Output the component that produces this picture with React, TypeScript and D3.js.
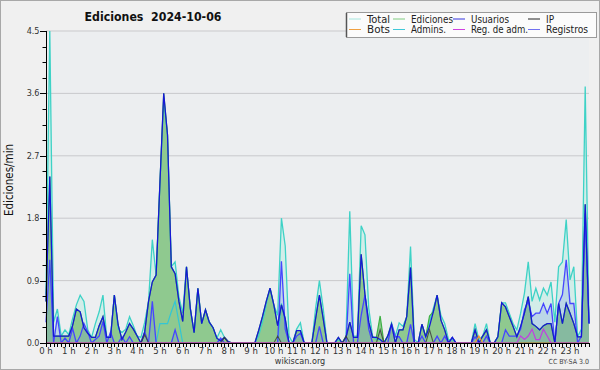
import React from "react";
import * as d3 from "d3";

// ---- data (10-minute steps, 144 per day) ----
const hourLabels = ["0 h","1 h","2 h","3 h","4 h","5 h","6 h","7 h","8 h","9 h","10 h","11 h","12 h","13 h","14 h","15 h","16 h","17 h","18 h","19 h","20 h","21 h","22 h","23 h"];
const yTickValues = [0, 0.9, 1.8, 2.7, 3.6, 4.5];
const yTickLabels = ["0.0", "0.9", "1.8", "2.7", "3.6", "4.5"];

const total = [
  0.7, 4.5, 0.3, 0.49, 0.1, 0.19, 0.12, 0.35, 0.55, 0.69, 0.6, 0.19,
  0.08, 0.28, 0.45, 0.69, 0.08, 0.1, 0.69, 0.2, 0.15, 0.2, 0.38, 0.25,
  0.1, 0.08, 0.3, 0.6, 1.49, 0.98, 2.3, 3.5, 3.0, 1.1, 1.17, 0.67,
  0.43, 1.1, 0.5, 0.15, 0.79, 0.28, 0.48, 0.3, 0.22, 0.07, 0.19, 0.08,
  0.02, 0, 0, 0, 0, 0, 0, 0, 0.1, 0.3, 0.55, 0.79,
  0.55, 0.4, 1.8, 1.4, 0.1, 0, 0.2, 0.29, 0, 0, 0, 0.5,
  0.9, 0.5, 0, 0, 0, 0.05, 0, 0.1, 1.9, 0.1, 0.1, 1.69,
  1.56, 0.5, 0.1, 0.05, 0.05, 0, 0.1, 0.29, 0.1, 0.29, 0.24, 0.38,
  1.39, 0.05, 0, 0.27, 0.09, 0.3, 0.5, 0.69, 0.4, 0.28, 0.05, 0.05,
  0, 0, 0, 0, 0, 0.28, 0.05, 0.1, 0.28, 0, 0, 0.09,
  0.58, 0.58, 0.43, 0.28, 0.19, 0.43, 0.72, 1.17, 0.6, 0.79, 0.62, 0.79,
  0.69, 0.88, 0.3, 1.1, 1.17, 1.78, 0.91, 1.1, 0.09, 0.2, 3.7, 0.28,
];

const ediciones = [
  0.6, 2.4, 0.1, 0.1, 0.1, 0.1, 0.1, 0.25, 0.49, 0.45, 0.22, 0.14,
  0.08, 0.08, 0.25, 0.38, 0.08, 0.08, 0.69, 0.26, 0.05, 0.16, 0.28, 0.2,
  0.1, 0, 0.16, 0.6, 0.88, 0.98, 2.3, 3.6, 3.0, 1.1, 1.0, 0.6,
  0.31, 1.1, 0.5, 0.15, 0.79, 0.28, 0.48, 0.3, 0.22, 0.07, 0.03, 0.08,
  0.02, 0, 0, 0, 0, 0, 0, 0, 0.18, 0.38, 0.6, 0.79,
  0.55, 0.25, 0.55, 0.35, 0, 0, 0.18, 0.18, 0, 0, 0, 0.35,
  0.69, 0.35, 0, 0, 0, 0.08, 0, 0.08, 0.3, 0.08, 0.08, 1.28,
  0.7, 0.3, 0.08, 0.08, 0.39, 0, 0.1, 0.27, 0, 0.19, 0.19, 0.38,
  1.09, 0, 0, 0.27, 0.09, 0.39, 0.45, 0.69, 0.33, 0.19, 0, 0.08,
  0, 0, 0, 0, 0, 0.19, 0, 0.1, 0.19, 0, 0, 0.09,
  0.58, 0.52, 0.38, 0.24, 0.09, 0.24, 0.43, 0.67, 0.28, 0.24, 0.19, 0.25,
  0.28, 0.28, 0, 0.57, 0.28, 0.57, 0.43, 0.28, 0.09, 0.09, 2.0, 0.28,
];

const usuarios = [
  0.6, 2.4, 0.1, 0.1, 0.1, 0.1, 0.1, 0.25, 0.49, 0.45, 0.22, 0.14,
  0.08, 0.08, 0.25, 0.38, 0.08, 0.08, 0.69, 0.26, 0.05, 0.16, 0.28, 0.2,
  0.1, 0, 0.16, 0.6, 0.88, 0.98, 2.3, 3.6, 3.0, 1.1, 1.0, 0.6,
  0.31, 1.1, 0.5, 0.15, 0.79, 0.28, 0.48, 0.3, 0.22, 0.07, 0.03, 0.08,
  0.02, 0, 0, 0, 0, 0, 0, 0, 0.18, 0.38, 0.6, 0.79,
  0.55, 0.25, 0.55, 0.35, 0, 0, 0.18, 0.18, 0, 0, 0, 0.35,
  0.69, 0.35, 0, 0, 0, 0.08, 0, 0.08, 0.3, 0.08, 0.08, 1.28,
  0.7, 0.3, 0.08, 0.08, 0.05, 0, 0.1, 0.27, 0, 0.19, 0.19, 0.38,
  1.09, 0, 0, 0.27, 0.09, 0.24, 0.45, 0.69, 0.33, 0.19, 0, 0.08,
  0, 0, 0, 0, 0, 0.19, 0, 0.1, 0.19, 0, 0, 0.09,
  0.58, 0.52, 0.38, 0.24, 0.09, 0.24, 0.43, 0.67, 0.28, 0.24, 0.19, 0.25,
  0.28, 0.28, 0, 0.57, 0.28, 0.57, 0.43, 0.28, 0.09, 0.09, 2.0, 0.28,
];

const registros = [
  0.3, 1.2, 0, 0.38, 0, 0.07, 0, 0.21, 0, 0.1, 0.28, 0.16,
  0, 0.05, 0.1, 0.31, 0, 0.16, 0, 0, 0.09, 0, 0.09, 0,
  0, 0, 0.16, 0, 0.6, 0, 0, 0, 0, 0, 0.19, 0,
  0, 0, 0, 0, 0, 0, 0, 0, 0, 0, 0.07, 0,
  0, 0, 0, 0, 0, 0, 0, 0, 0, 0, 0, 0,
  0, 0, 1.18, 0.2, 0, 0, 0.1, 0.14, 0, 0, 0, 0,
  0.24, 0, 0, 0, 0, 0, 0, 0, 1.0, 0, 0, 0.4,
  0.69, 0.2, 0, 0, 0, 0, 0, 0.27, 0.09, 0.09, 0, 0,
  0.27, 0, 0, 0.1, 0, 0, 0, 0.1, 0, 0.1, 0, 0.08,
  0, 0, 0, 0, 0, 0.09, 0, 0, 0.1, 0, 0, 0,
  0, 0.19, 0.1, 0.1, 0.1, 0.2, 0.48, 0.6, 0.38, 0.43, 0.43, 0.57,
  0.43, 0.57, 0, 0.57, 0.7, 1.2, 0.57, 0.57, 0, 0.1, 1.87, 0.28,
];

const admins = [
  0, 0, 0, 0, 0, 0, 0, 0, 0, 0, 0, 0,
  0, 0, 0, 0, 0, 0, 0, 0, 0, 0, 0, 0,
  0, 0, 0, 0, 0, 0, 0.28, 0.28, 0.28, 0.45, 0.6, 0.3,
  0, 0, 0, 0, 0, 0, 0, 0, 0, 0, 0, 0,
  0, 0, 0, 0, 0, 0, 0, 0, 0, 0, 0, 0,
  0, 0, 0.57, 0.3, 0, 0, 0, 0, 0, 0, 0, 0,
  0, 0, 0, 0, 0, 0, 0, 0, 0, 0, 0, 0,
  0, 0, 0, 0, 0, 0, 0, 0, 0, 0, 0, 0,
  0, 0, 0, 0, 0, 0, 0, 0, 0, 0, 0, 0,
  0, 0, 0, 0, 0, 0, 0, 0, 0, 0, 0, 0,
  0, 0, 0, 0, 0, 0, 0, 0, 0, 0, 0, 0,
  0, 0, 0, 0, 0, 0, 0, 0, 0, 0, 0, 0,
];

const ip = [
  0, 0, 0, 0, 0, 0, 0, 0, 0, 0, 0, 0,
  0, 0, 0, 0, 0, 0, 0, 0, 0, 0, 0, 0,
  0, 0, 0.12, 0, 0, 0, 0, 0, 0, 0, 0, 0,
  0, 0, 0, 0, 0, 0, 0, 0, 0, 0, 0, 0.08,
  0, 0, 0, 0, 0, 0, 0, 0, 0, 0, 0, 0,
  0, 0.1, 0, 0, 0, 0, 0, 0, 0, 0, 0, 0,
  0, 0, 0, 0, 0, 0, 0, 0.1, 0, 0, 0, 0,
  0, 0, 0, 0, 0.19, 0, 0, 0, 0, 0, 0, 0,
  0, 0, 0, 0, 0, 0.19, 0, 0, 0, 0, 0, 0,
  0, 0, 0, 0, 0, 0, 0, 0, 0, 0, 0, 0,
  0, 0, 0, 0, 0, 0, 0, 0, 0, 0, 0, 0,
  0, 0, 0, 0, 0, 0, 0, 0, 0, 0, 0, 0,
];

const bots = [
  0, 0, 0, 0, 0, 0, 0, 0, 0, 0, 0, 0,
  0, 0, 0, 0, 0, 0, 0, 0, 0, 0, 0, 0,
  0, 0, 0, 0, 0, 0, 0, 0, 0, 0, 0, 0,
  0, 0, 0, 0, 0, 0, 0, 0, 0, 0, 0, 0,
  0, 0, 0, 0, 0, 0, 0, 0, 0, 0, 0, 0,
  0, 0, 0, 0, 0, 0, 0, 0, 0, 0, 0, 0,
  0, 0, 0, 0, 0, 0, 0, 0, 0, 0, 0, 0,
  0, 0, 0, 0, 0, 0, 0, 0, 0, 0, 0, 0,
  0, 0, 0, 0, 0, 0, 0, 0, 0, 0, 0, 0,
  0, 0, 0, 0, 0, 0, 0.1, 0, 0, 0, 0, 0,
  0, 0, 0, 0, 0, 0, 0, 0, 0, 0, 0, 0,
  0, 0, 0, 0, 0, 0, 0, 0, 0, 0, 0, 0,
];

const regAdm = [
  0, 0, 0, 0, 0, 0, 0, 0, 0, 0, 0, 0,
  0, 0, 0, 0, 0, 0, 0, 0, 0, 0, 0, 0,
  0, 0, 0, 0, 0, 0, 0, 0, 0, 0, 0, 0,
  0, 0, 0, 0, 0, 0, 0, 0, 0, 0, 0, 0,
  0, 0, 0, 0, 0, 0, 0, 0, 0, 0, 0, 0,
  0, 0, 0, 0, 0, 0, 0, 0, 0, 0, 0, 0,
  0, 0, 0, 0, 0, 0, 0, 0, 0, 0, 0, 0,
  0, 0, 0, 0, 0, 0, 0, 0, 0, 0, 0, 0,
  0, 0, 0, 0, 0, 0, 0, 0, 0, 0, 0, 0,
  0, 0, 0, 0, 0, 0, 0, 0, 0, 0, 0, 0,
  0, 0, 0, 0, 0, 0.1, 0.05, 0.1, 0.2, 0.05, 0.05, 0.2,
  0.1, 0, 0, 0, 0, 0, 0, 0, 0, 0, 0, 0,
];

const legendItems = [
  { label: "Total", color: "#a6e6de", w: 23 },
  { label: "Ediciones", color: "#80cc80", w: 42 },
  { label: "Usuarios", color: "#3434e0", w: 38 },
  { label: "IP", color: "#222222", w: 8 },
  { label: "Bots", color: "#f0a040", w: 23 },
  { label: "Admins.", color: "#40c8d8", w: 35 },
  { label: "Reg. de adm.", color: "#d040e0", w: 57 },
  { label: "Registros", color: "#7070f0", w: 42 },
];

const FONT = "'DejaVu Sans Condensed', 'DejaVu Sans', sans-serif";

export default function App() {
  const W = 600, H = 370;
  const left = 46, right = 589, top = 31, bottom = 343;
  const n = total.length;
  const x = d3.scaleLinear().domain([0, n - 1]).range([left, right]);
  const y = d3.scaleLinear().domain([0, 4.5]).range([bottom, top]);
  const minorY = d3.range(0, 4.5001, 0.225);

  const area = (arr: number[]) =>
    d3.area<number>().x((_, i) => x(i)).y0(y(0)).y1((d) => y(d))(arr) || "";
  const line = (arr: number[]) =>
    d3.line<number>().x((_, i) => x(i)).y((d) => y(d))(arr) || "";

  const legX = [349, 393, 453, 528];
  const legY = [19, 29.5];

  return (
    <svg width={W} height={H} style={{ position: "absolute", left: 0, top: 0, display: "block" }}
      fontFamily={FONT}>
      <rect x={0.5} y={0.5} width={W - 1} height={H - 1} fill="#f0f0f0" stroke="#a8a8a8" />
      <rect x={left} y={top} width={right - left} height={bottom - top} fill="#eceef0" />
      {yTickValues.slice(1).map((v) => (
        <line key={"g" + v} x1={left} x2={right} y1={y(v)} y2={y(v)} stroke="#c9c9cc" strokeWidth={1} />
      ))}

      {/* areas */}
      <path d={area(total)} fill="#c8ece6" fillOpacity={0.7} />
      <path d={area(ediciones)} fill="#8fc98f" />
      <path d={area(registros)} fill="#6a82e0" fillOpacity={0.22} />

      {/* lines */}
      <path d={line(total)} fill="none" stroke="#3ed2c6" strokeWidth={1.3} />
      <path d={line(admins)} fill="none" stroke="#33c6d4" strokeWidth={1.2} />
      <path d={line(ediciones)} fill="none" stroke="#3cb043" strokeWidth={1.2} />
      <path d={line(registros)} fill="none" stroke="#4646ff" strokeWidth={1.3} />
      <path d={line(usuarios)} fill="none" stroke="#1616d8" strokeWidth={1.25} />
      <path d={line(ip)} fill="none" stroke="#3a3a3a" strokeWidth={1.1} strokeOpacity={0.8} />
      <path d={line(bots)} fill="none" stroke="#f09a30" strokeWidth={1.2} />
      <path d={line(regAdm)} fill="none" stroke="#c040e0" strokeWidth={1.2} />

      {/* y axis */}
      <line x1={left + 0.5} x2={left + 0.5} y1={top} y2={bottom} stroke="#000" />
      {minorY.map((v, i) => (
        <line key={"my" + i} x1={i % 4 === 0 ? left - 6 : left - 3.5} x2={left} y1={Math.round(y(v)) + 0.5} y2={Math.round(y(v)) + 0.5} stroke="#000" />
      ))}
      {yTickValues.map((v, i) => (
        <text key={"yl" + i} x={39.5} y={y(v) + 3} textAnchor="end" fontSize={9} fill="#333">{yTickLabels[i]}</text>
      ))}
      <text transform="translate(13,180) rotate(-90)" textAnchor="middle" fontSize={11.5} fill="#111">Ediciones/min</text>

      {/* x axis */}
      <line x1={left} x2={right + 1} y1={bottom + 0.5} y2={bottom + 0.5} stroke="#000" />
      {d3.range(n).map((i) => (
        <line key={"mx" + i} x1={Math.round(x(i)) + 0.5} x2={Math.round(x(i)) + 0.5} y1={bottom} y2={bottom + 4} stroke="#000" />
      ))}
      {hourLabels.map((lab, h) => (
        <text key={"xl" + h} x={x(h * 6)} y={354} textAnchor="middle" fontSize={9.5} fill="#333">{lab}</text>
      ))}

      {/* title */}
      <text x={153} y={21} textAnchor="middle" fontSize={12} fontWeight="bold" fill="#111" style={{ whiteSpace: "pre" }}
        textLength={137} lengthAdjust="spacingAndGlyphs">{"Ediciones  2024-10-06"}</text>

      {/* legend */}
      <rect x={346.5} y={12.5} width={250} height={25} fill="#fbfbfb" stroke="#9a9a9a" />
      <line x1={346.5} x2={346.5} y1={13} y2={37} stroke="#555" strokeWidth={1.5} />
      {legendItems.map((it, k) => {
        const col = k % 4, row = Math.floor(k / 4);
        const lx = legX[col], ly = legY[row];
        return (
          <g key={"lg" + k}>
            <line x1={lx} x2={lx + 12} y1={ly} y2={ly} stroke={it.color} strokeWidth={1} />
            <text x={lx + 18} y={ly + 3.5} fontSize={10} fill="#222" textLength={it.w} lengthAdjust="spacingAndGlyphs">{it.label}</text>
          </g>
        );
      })}

      {/* footer */}
      <text x={300} y={364} textAnchor="middle" fontSize={9} fill="#333">wikiscan.org</text>
      <text x={589} y={364} textAnchor="end" fontSize={7} fill="#444">CC BY-SA 3.0</text>
    </svg>
  );
}
